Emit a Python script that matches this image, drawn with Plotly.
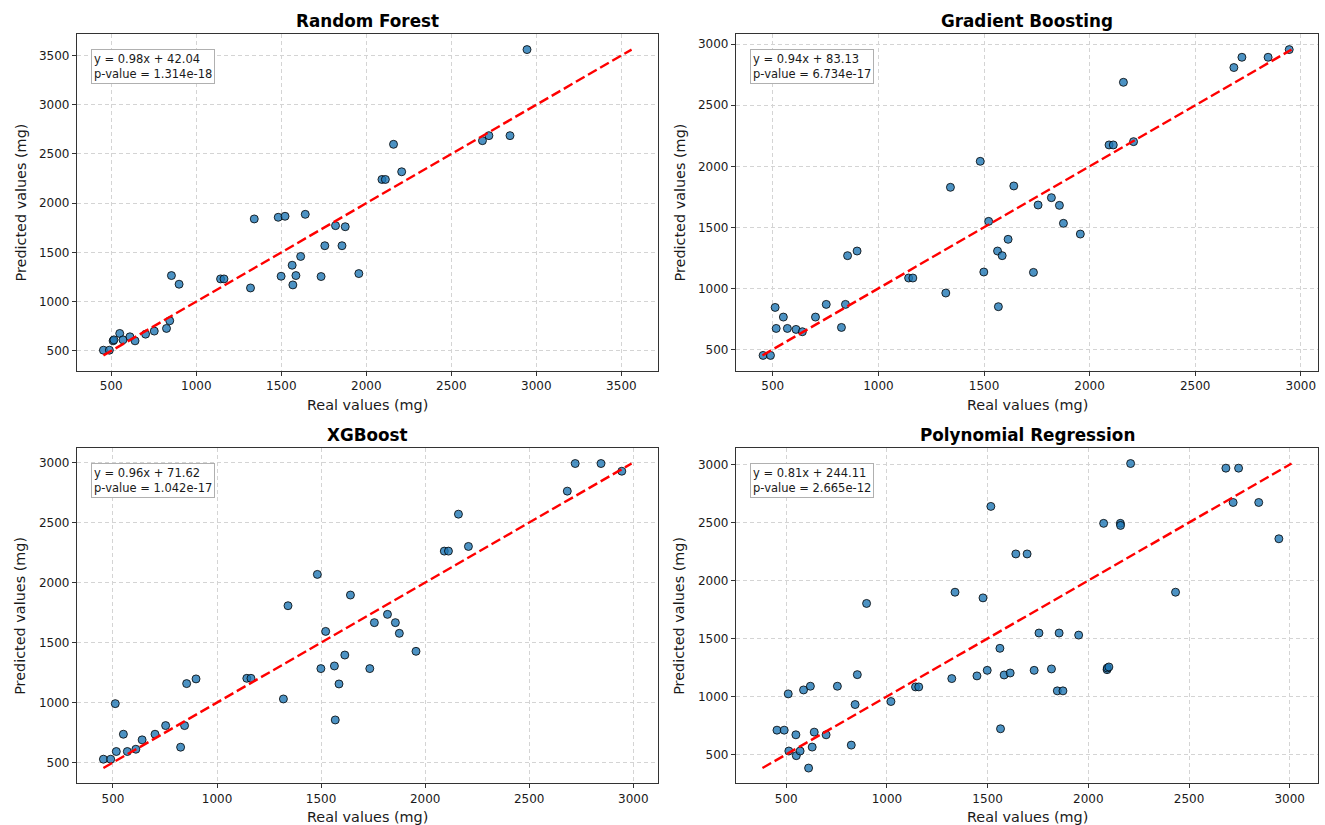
import plotly.graph_objects as go

# ---------------- data ----------------
real_values = [454, 489, 511, 516, 550, 569, 610, 640, 702, 753, 825, 844, 854, 899,
               1143, 1163, 1319, 1341, 1482, 1499, 1522, 1564, 1568, 1586, 1614, 1641,
               1734, 1756, 1819, 1857, 1876, 1956, 2092, 2112, 2160, 2208, 2683, 2721,
               2845, 2945]
rf_pred = [507, 507, 602, 612, 677, 612, 643, 602, 670, 701, 728, 806, 1265, 1177,
           1231, 1231, 1139, 1840, 1857, 1258, 1867, 1370, 1170, 1265, 1459, 1887,
           1255, 1568, 1772, 1568, 1761, 1285, 2241, 2241, 2598, 2319, 2635, 2686,
           2686, 3560]
gb_pred = [451, 451, 844, 672, 765, 672, 664, 645, 765, 869, 680, 869, 1268, 1306,
           1085, 1085, 962, 1828, 2041, 1134, 1549, 1306, 850, 1268, 1402, 1839,
           1131, 1683, 1743, 1680, 1533, 1445, 2175, 2175, 2688, 2202, 2809, 2893,
           2893, 2956]
xgb_pred = [528, 528, 991, 592, 736, 592, 611, 689, 736, 808, 628, 808, 1158, 1197,
            1202, 1202, 1030, 1807, 2068, 1283, 1593, 1305, 855, 1155, 1396, 1896,
            1283, 1666, 1735, 1666, 1577, 1427, 2262, 2262, 2570, 2301, 2762, 2992,
            2992, 2928]
poly_real = [454, 490, 510, 513, 548, 550, 569, 586, 611, 620, 629, 639, 698, 754,
             823, 842, 853, 899, 1020, 1142, 1158, 1322, 1338, 1447, 1477, 1498, 1516,
             1561, 1564, 1582, 1612, 1640, 1696, 1731, 1755, 1817, 1846, 1855, 1874,
             1952, 2076, 2093, 2094, 2102, 2159, 2160, 2210, 2433, 2683, 2719, 2746,
             2846, 2946]
poly_pred = [709, 709, 1022, 529, 669, 489, 529, 1056, 382, 1088, 563, 692, 669, 1088,
             580, 930, 1188, 1802, 956, 1082, 1082, 1154, 1899, 1177, 1850, 1225, 2639,
             1415, 721, 1185, 1202, 2229, 2229, 1225, 1547, 1237, 1048, 1547, 1048,
             1529, 2493, 1231, 1245, 1254, 2493, 2475, 3009, 1899, 2969, 2673, 2969,
             2673, 2360]

titles = ["Random Forest", "Gradient Boosting", "XGBoost", "Polynomial Regression"]
equations = ["y = 0.98x + 42.04", "y = 0.94x + 83.13", "y = 0.96x + 71.62", "y = 0.81x + 244.11"]
p_values = ["1.314e-18", "6.734e-17", "1.042e-17", "2.665e-12"]
x_label = "Real values (mg)"
y_label = "Predicted values (mg)"

series = [(real_values, rf_pred), (real_values, gb_pred),
          (real_values, xgb_pred), (poly_real, poly_pred)]

# ---------------- layout geometry (pixels) ----------------
W, H = 1325, 825
boxes = [(77, 658, 34.3, 370.7), (736, 1318, 34.3, 370.7),
         (77, 658, 448.3, 783.3), (736, 1318, 448.3, 783.3)]

FONT = "DejaVu Sans"
TXT = "#1a1a1a"

fig = go.Figure()
annotations = []
layout_axes = {}

for i, ((xs, ys), title, eq, pv, (l, r, t, b)) in enumerate(
        zip(series, titles, equations, p_values, boxes), start=1):
    xa = "x" if i == 1 else f"x{i}"
    ya = "y" if i == 1 else f"y{i}"
    lo = min(min(xs), min(ys))
    hi = max(max(xs), max(ys))
    pad = 0.05 * (hi - lo)
    rng = [lo - pad, hi + pad]

    fig.add_trace(go.Scatter(
        x=xs, y=ys, mode="markers", xaxis=xa, yaxis=ya, showlegend=False,
        marker=dict(size=8, color="rgba(31,119,180,0.8)",
                    line=dict(color="rgba(0,0,0,0.8)", width=1)),
    ))
    fig.add_trace(go.Scatter(
        x=[lo, hi], y=[lo, hi], mode="lines", xaxis=xa, yaxis=ya, showlegend=False,
        line=dict(color="red", width=2.4, dash="10px,4px"),
    ))

    common = dict(
        range=rng, dtick=500, tick0=0, showgrid=True, gridcolor="#d4d4d4",
        griddash="4px,3px", gridwidth=0.8, zeroline=False, showline=True, mirror=True,
        linecolor="#333333", linewidth=1.2, ticks="outside", ticklen=4,
        tickcolor="#333333", tickwidth=1, automargin=False,
        tickfont=dict(family=FONT, size=12, color=TXT),
    )
    xkey = "xaxis" if i == 1 else f"xaxis{i}"
    ykey = "yaxis" if i == 1 else f"yaxis{i}"
    layout_axes[xkey] = dict(common, domain=[l / W, r / W], anchor=ya)
    layout_axes[ykey] = dict(common, domain=[1 - b / H, 1 - t / H], anchor=xa)

    cx = (l + r) / 2 / W
    cy = 1 - (t + b) / 2 / H
    annotations.append(dict(
        text=title, x=cx, y=1 - (t - 13) / H, xref="paper", yref="paper",
        xanchor="center", yanchor="middle", showarrow=False,
        font=dict(family=FONT, size=16.8, color="black", weight="bold")))
    annotations.append(dict(
        text=x_label, x=cx, y=1 - (b + 34) / H, xref="paper", yref="paper",
        xanchor="center", yanchor="middle", showarrow=False,
        font=dict(family=FONT, size=14.4, color=TXT)))
    annotations.append(dict(
        text=y_label, x=(l - 57) / W, y=cy, xref="paper", yref="paper",
        xanchor="center", yanchor="middle", showarrow=False, textangle=-90,
        font=dict(family=FONT, size=14.4, color=TXT)))
    annotations.append(dict(
        text=f"{eq}<br>p-value = {pv}", align="left",
        x=14 / (r - l), y=1 - 15 / (b - t),
        xref=f"{xa} domain", yref=f"{ya} domain",
        xanchor="left", yanchor="top", showarrow=False,
        bgcolor="white", bordercolor="#b0b0b0", borderwidth=1, borderpad=2,
        font=dict(family=FONT, size=11.5, color=TXT)))

fig.update_layout(
    width=W, height=H, autosize=False,
    margin=dict(l=0, r=0, t=0, b=0),
    paper_bgcolor="white", plot_bgcolor="white",
    annotations=annotations,
    **layout_axes,
)

fig.write_html("out.html", config={"displayModeBar": False},
               post_script="document.body.style.margin='0';document.body.style.overflow='hidden';")
